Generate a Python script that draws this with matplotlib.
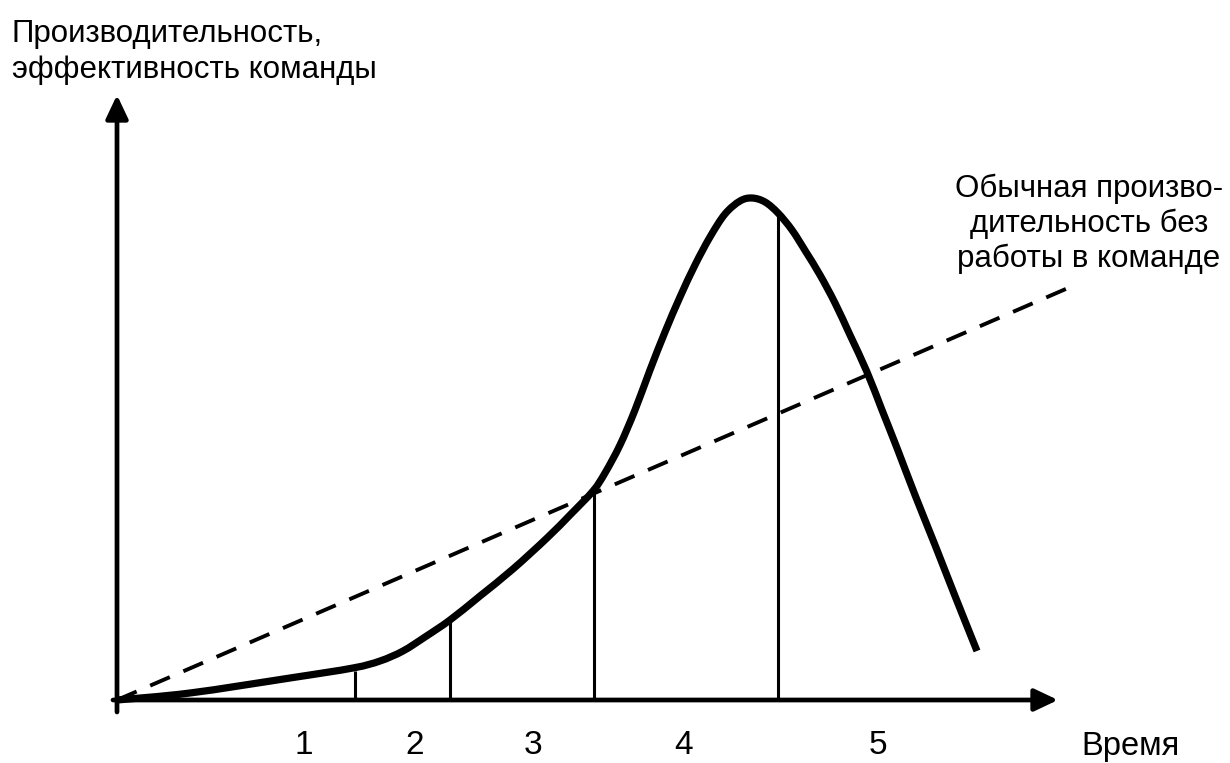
import matplotlib
matplotlib.use("Agg")
import matplotlib.pyplot as plt
from matplotlib.path import Path
from matplotlib.patches import PathPatch

plt.rcParams['font.family'] = ['Liberation Sans', 'DejaVu Sans']

# Team performance curve over time (time, performance)
curve_t = [0.00, 0.73, 1.73, 2.36, 2.63, 2.86, 3.08, 3.33, 3.63, 3.96, 4.30,
           4.53, 4.76, 4.88, 5.03, 5.18, 5.33, 5.48, 5.63, 5.78, 5.93, 6.08,
           6.23, 6.35, 6.48, 6.61, 6.75, 6.89, 7.03, 7.18, 7.33, 7.50, 7.65,
           7.80, 7.98, 8.18, 8.38, 8.60]
curve_v = [0.00, 0.07, 0.22, 0.32, 0.39, 0.49, 0.63, 0.80, 1.04, 1.31, 1.62,
           1.85, 2.09, 2.27, 2.55, 2.90, 3.30, 3.68, 4.03, 4.35, 4.63, 4.86,
           4.99, 5.02, 4.98, 4.87, 4.70, 4.48, 4.25, 3.97, 3.65, 3.28, 2.90,
           2.52, 2.05, 1.55, 1.04, 0.49]

# Ordinary individual performance (straight trend)
base_t = [0.00, 9.58]
base_v = [0.00, 4.15]

# Stage boundaries and their heights on the curve
stage_bounds = [2.38, 3.33, 4.77, 6.61]
stage_heights = [0.29, 0.80, 2.08, 4.84]

# Stage labels and their positions along the time axis
stage_labels = ['1', '2', '3', '4', '5']
stage_pos = [1.87, 2.98, 4.16, 5.67, 7.61]


def smooth_path(xs, ys):
    """Catmull-Rom curve through the points, as cubic Bezier segments."""
    pts = list(zip(xs, ys))
    n = len(pts)
    verts = [pts[0]]
    codes = [Path.MOVETO]
    for i in range(n - 1):
        p0 = pts[max(i - 1, 0)]
        p1 = pts[i]
        p2 = pts[i + 1]
        p3 = pts[min(i + 2, n - 1)]
        c1 = (p1[0] + (p2[0] - p0[0]) / 6, p1[1] + (p2[1] - p0[1]) / 6)
        c2 = (p2[0] - (p3[0] - p1[0]) / 6, p2[1] - (p3[1] - p1[1]) / 6)
        verts += [c1, c2, p2]
        codes += [Path.CURVE4] * 3
    return Path(verts, codes)


fig = plt.figure(figsize=(12.30, 7.63), dpi=100)
ax = fig.add_axes([0, 0, 1, 1])
ax.set_xlim(-1.17, 11.13)
ax.set_ylim(-0.63, 7.00)
ax.axis('off')

# Axes with arrow heads
arrow_kw = dict(arrowstyle='-|>,head_length=0.95,head_width=0.45', lw=3.4,
                color='black', mutation_scale=15, shrinkA=0, shrinkB=0)
ax.annotate('', xy=(0, 6.05), xytext=(0, -0.12), arrowprops=arrow_kw)
ax.annotate('', xy=(9.41, 0), xytext=(-0.04, 0), arrowprops=arrow_kw)

# Stage boundary lines
for t, h in zip(stage_bounds, stage_heights):
    ax.plot([t, t], [0, h], color='black', lw=2.2, solid_capstyle='butt')

# Baseline dashed trend
ax.plot(base_t, base_v, color='black', lw=2.8, linestyle=(0, (5.5, 3.8)))

# Team curve
ax.add_patch(PathPatch(smooth_path(curve_t, curve_v), facecolor='none',
                       edgecolor='black', lw=5.2, joinstyle='round',
                       capstyle='butt'))

# Stage numbers
for lbl, t in zip(stage_labels, stage_pos):
    ax.text(t, -0.45, lbl, fontsize=24, ha='center', va='center')

ax.text(10.13, -0.46, 'Время', fontsize=23.5, ha='center', va='center')

# Vertical axis title
ax.text(-1.05, 6.58, 'Производительность,', fontsize=22.5,
        ha='left', va='baseline')
ax.text(-1.05, 6.22, 'эффективность команды', fontsize=22.5,
        ha='left', va='baseline')

# Note for the dashed trend
note_lines = ['Обычная произво-', 'дительность без', 'работы в команде']
for i, line in enumerate(note_lines):
    ax.text(9.72, 5.03 - 0.35 * i, line, fontsize=22.5,
            ha='center', va='baseline')

fig.savefig('out.png', dpi=100)
